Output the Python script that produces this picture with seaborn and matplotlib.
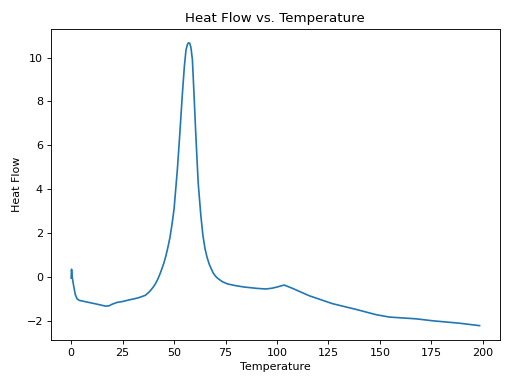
import pandas as pd
import seaborn as sns
import matplotlib
matplotlib.use("Agg")
import matplotlib.pyplot as plt

# values
temperature = [0, 0.2, 0.5, 1.3, 2.0, 2.9, 4, 7, 12, 16.7, 18.3, 20, 22.4, 25, 28, 31, 33,
               36, 38, 40, 41, 42, 43, 44, 45, 46, 47, 48, 49, 50, 51.6, 52.7, 54, 55,
               55.8, 56.5, 57, 57.6, 58.2, 58.9, 59.6, 60.5, 61.7, 63, 64, 65, 66, 67, 68,
               69, 70, 71, 73.5, 76, 80, 84, 90, 94.6, 97.8, 100, 103.5, 107.5, 115.7,
               127, 138.4, 148.1, 154.6, 167.6, 175.7, 188.7, 198.4]
heat_flow = [-0.05, 0.35, 0.0, -0.45, -0.8, -1.0, -1.07, -1.13, -1.23, -1.33, -1.32, -1.24,
             -1.16, -1.12, -1.05, -0.99, -0.94, -0.84, -0.68, -0.45, -0.3, -0.12, 0.1, 0.35,
             0.62, 0.95, 1.35, 1.8, 2.4, 3.1, 4.9, 6.4, 8.3, 9.6, 10.35, 10.6, 10.67, 10.65,
             10.45, 9.9, 8.5, 6.6, 4.3, 2.8, 1.9, 1.3, 0.9, 0.6, 0.38, 0.18, 0.05, -0.05,
             -0.22, -0.32, -0.4, -0.46, -0.52, -0.55, -0.51, -0.46, -0.37, -0.52, -0.86,
             -1.22, -1.48, -1.72, -1.83, -1.91, -2.0, -2.11, -2.22]

df = pd.DataFrame({"Temperature": temperature, "Heat Flow": heat_flow})

fig, ax = plt.subplots(figsize=(6.4, 4.8), dpi=80)
sns.lineplot(data=df, x="Temperature", y="Heat Flow", estimator=None, sort=False, ax=ax)
ax.set_title("Heat Flow vs. Temperature")
ax.set_xlabel("Temperature")
ax.set_ylabel("Heat Flow")
plt.tight_layout()
plt.savefig("out.png")
